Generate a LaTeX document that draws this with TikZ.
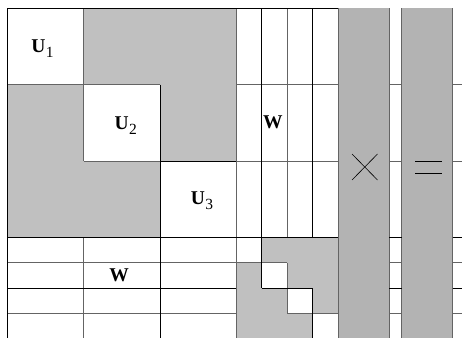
\documentclass[tikz,border=0pt]{standalone}
\usepackage{fontspec}
\setmainfont{Liberation Serif}
\definecolor{mgray}{HTML}{C0C0C0}
\definecolor{vgray}{HTML}{B3B3B3}
\definecolor{lgray}{HTML}{646464}
\begin{document}
\begin{tikzpicture}[x=1pt,y=-1pt,
  bk/.style={draw=black,line width=0.9pt},
  gy/.style={draw=lgray,line width=0.9pt},
  lab/.style={inner sep=0pt,font=\fontsize{19.5}{19.5}\selectfont\bfseries},
  opline/.style={draw=black,line width=0.6pt}]
\useasboundingbox (0,0) rectangle (462,337);
\clip (0,0) rectangle (462,337);
\begin{scope}[xshift=7.3pt,yshift=-8.3pt,x=25.45pt,y=-25.45pt]
  % fills
  \fill[mgray] (3,0) -- (9,0) -- (9,6) -- (6,6) -- (6,3) -- (3,3) -- cycle;
  \fill[mgray] (0,3) -- (3,3) -- (3,6) -- (6,6) -- (6,9) -- (0,9) -- cycle;
  \fill[mgray] (10,9) -- (13,9) -- (13,12) -- (12,12) -- (12,11) -- (11,11) -- (11,10) -- (10,10) -- cycle;
  \fill[mgray] (9,10) -- (10,10) -- (10,11) -- (11,11) -- (11,12) -- (12,12) -- (12,13.5) -- (9,13.5) -- cycle;
  \fill[vgray] (13,0) rectangle (15,13.5);
  \fill[vgray] (15.5,0) rectangle (17.5,13.5);
  % gray lines
  \draw[gy] (3,0) -- (3,6);
  \draw[gy] (3,9) -- (3,13.5);
  \draw[gy] (0,3) -- (6,3);
  \draw[gy] (9,3) -- (13,3);
  \draw[gy] (3,6) -- (6,6);
  \draw[gy] (9,6) -- (13,6);
  \draw[gy] (9,0) -- (9,13.5);
  \draw[gy] (11,0) -- (11,9);
  \draw[gy] (11,10) -- (11,12);
  \draw[gy] (0,10) -- (11,10);
  \draw[gy] (0,12) -- (9,12);
  \draw[gy] (11,12) -- (13,12);
  \draw[gy] (13,0) -- (13,13.5);
  \draw[gy] (15,0) -- (15,13.5);
  \draw[gy] (15.5,0) -- (15.5,13.5);
  \draw[gy] (17.5,0) -- (17.5,13.5);
  \foreach \r in {3,6,10,12} {
    \draw[gy] (15,\r) -- (15.5,\r);
    \draw[gy] (17.5,\r) -- (18.5,\r);
  }
  % black lines
  \draw[bk] (0,13.5) -- (0,0) -- (13,0);
  \draw[bk] (6,3) -- (6,13.5);
  \draw[bk] (6,6) -- (9,6);
  \draw[bk] (0,9) -- (13,9);
  \draw[bk] (10,0) -- (10,11);
  \draw[bk] (0,11) -- (9,11);
  \draw[bk] (10,11) -- (12,11);
  \draw[bk] (12,0) -- (12,9);
  \draw[bk] (12,11) -- (12,13.5);
  \foreach \r in {9,11} {
    \draw[bk] (15,\r) -- (15.5,\r);
    \draw[bk] (17.5,\r) -- (18.5,\r);
  }
\end{scope}
% operators
\draw[opline] (352,154) -- (377.5,180);
\draw[opline] (352,180) -- (377.5,154);
\draw[opline,line width=0.8pt] (415,161) -- (442,161);
\draw[opline,line width=0.8pt] (415,173.3) -- (442,173.3);
% labels
\newcommand{\sbx}[1]{\kern0.3pt\raisebox{-5pt}{\fontsize{15.5}{15.5}\selectfont\mdseries #1}}
\node[lab] (u1) at (42.5,48.8) {U\sbx{1}};
\node[lab] (u2) at (125.8,125.5) {U\sbx{2}};
\node[lab] (u3) at (202,201) {U\sbx{3}};
\node[lab] (w1) at (272.8,122.2) {W};
\node[lab] (w2) at (119.2,275) {W};
\end{tikzpicture}
\end{document}
